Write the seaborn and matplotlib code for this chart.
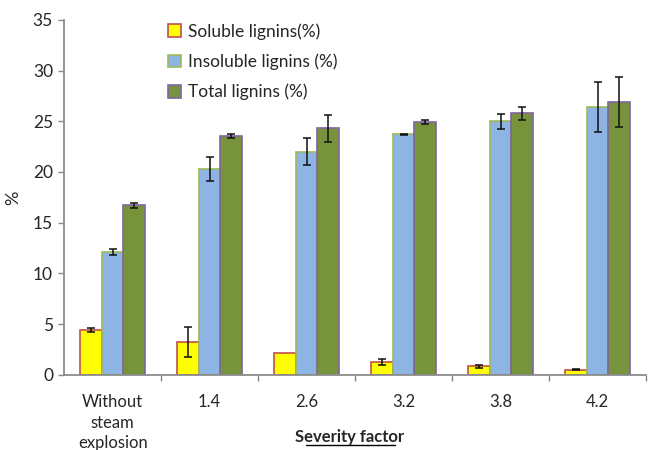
import matplotlib
matplotlib.use("Agg")
import matplotlib.pyplot as plt
import seaborn as sns
import pandas as pd
import numpy as np

# Lignin content by severity factor
categories = ["Without\nsteam\nexplosion", "1.4", "2.6", "3.2", "3.8", "4.2"]
series = ["Soluble lignins(%)", "Insoluble lignins (%)", "Total lignins (%)"]
soluble = [4.4, 3.25, 2.2, 1.25, 0.85, 0.5]
soluble_err = [0.2, 1.5, 0.0, 0.3, 0.15, 0.05]
insoluble = [12.1, 20.3, 22.0, 23.7, 25.0, 26.4]
insoluble_err = [0.3, 1.15, 1.3, 0.05, 0.75, 2.5]
total = [16.7, 23.5, 24.3, 24.9, 25.8, 26.9]
total_err = [0.25, 0.2, 1.3, 0.2, 0.65, 2.5]

fills = ["#FFFF00", "#8DB4E2", "#77933C"]
edges = ["#C0504D", "#9BBB59", "#8064A2"]

df = pd.DataFrame({
    "factor": categories * 3,
    "series": [s for s in series for _ in categories],
    "value": soluble + insoluble + total,
})
errs = [soluble_err, insoluble_err, total_err]

sns.set_style("white")
plt.rcParams["font.family"] = ["Lato", "DejaVu Sans"]

fig = plt.figure(figsize=(6.48, 4.5), dpi=100)
ax = fig.add_axes([0.099, 0.167, 0.898, 0.789])

sns.barplot(data=df, x="factor", y="value", hue="series", order=categories,
            hue_order=series, palette=fills, errorbar=None, width=0.67,
            saturation=1, ax=ax)

for cont, ec, err in zip(ax.containers, edges, errs):
    xs, ys = [], []
    for bar in cont:
        bar.set_edgecolor(ec)
        bar.set_linewidth(1.2)
        xs.append(bar.get_x() + bar.get_width() / 2)
        ys.append(bar.get_height())
    e = np.array(err)
    mask = e > 0
    ax.errorbar(np.array(xs)[mask], np.array(ys)[mask], yerr=e[mask], fmt="none",
                ecolor="#111111", elinewidth=1.1, capsize=3.2, capthick=1.1, zorder=5)

ax.set_ylim(0, 35)
ax.set_xlim(-0.5, len(categories) - 0.5)
ax.set_yticks(range(0, 36, 5))
ax.tick_params(axis="y", labelsize=12.5, length=4, width=1, color="#888888",
               direction="out", left=True, pad=4)
ax.set_xticks(range(len(categories)))
ax.set_xticklabels(categories, linespacing=1.35)
ax.tick_params(axis="x", which="major", length=0, labelsize=12, pad=14)
ax.set_xticks(np.arange(0.5, len(categories) - 0.5 + 1), minor=True)
ax.tick_params(axis="x", which="minor", length=4, width=1, color="#888888",
               direction="out", bottom=True)

for side in ["top", "right"]:
    ax.spines[side].set_visible(False)
for side in ["left", "bottom"]:
    ax.spines[side].set_color("#8C8C8C")
    ax.spines[side].set_linewidth(1.3)

ax.set_ylabel("%", fontsize=13, labelpad=8)
ax.set_xlabel("")
fig.text(0.54, 0.017, "Severity factor", fontsize=12, fontweight="bold",
         ha="center", va="baseline")
# underline for the axis title
fig.add_artist(plt.Line2D([0.472, 0.609], [0.011, 0.011], color="black", lw=1))

handles, labels = ax.get_legend_handles_labels()
for h, ec in zip(handles, edges):
    h.set_edgecolor(ec)
    h.set_linewidth(1.2)
ax.legend(handles, labels, loc="upper left", bbox_to_anchor=(0.152, 1.035),
          frameon=False, fontsize=12.5, handlelength=0.75, handleheight=0.75,
          handletextpad=0.4, labelspacing=0.8)

fig.savefig("out.png", dpi=100)
